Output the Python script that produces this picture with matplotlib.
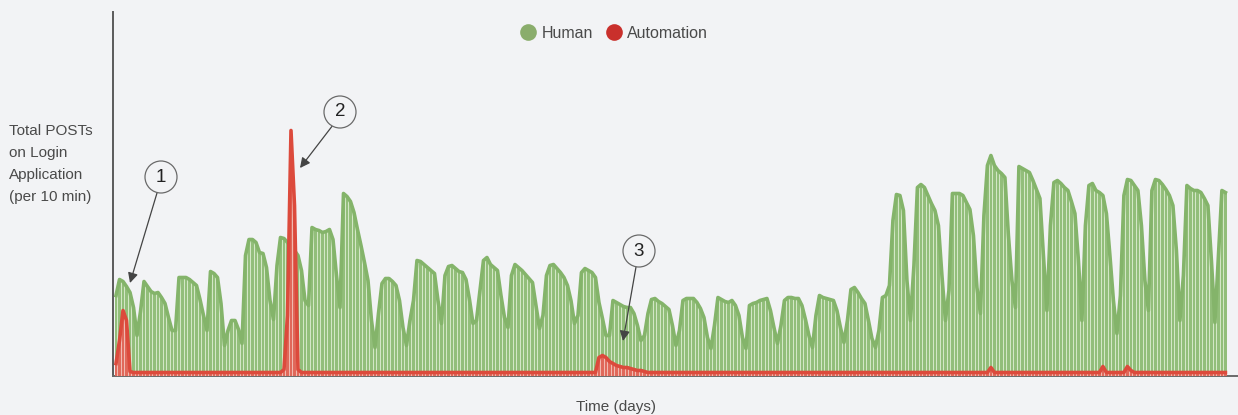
import matplotlib
matplotlib.use("Agg")
import matplotlib.pyplot as plt
from matplotlib.lines import Line2D
from matplotlib.patches import Circle
import numpy as np

plt.rcParams['font.family'] = ['Liberation Sans', 'DejaVu Sans']

# ---- data (one value per time step) ----
human = [
    80, 96, 94, 89, 83, 68, 40, 64, 94, 89, 84, 82, 83, 78, 72, 58, 45, 45,
    98, 98, 98, 96, 93, 90, 76, 60, 45, 104, 102, 98, 72, 30, 45, 55, 55, 46,
    32, 120, 136, 136, 133, 123, 122, 108, 75, 56, 110, 138, 137, 133, 129, 125,
    120, 105, 75, 70, 148, 146, 145, 143, 144, 146, 136, 100, 68, 182, 179, 174,
    163, 146, 130, 113, 95, 55, 28, 62, 92, 97, 97, 94, 90, 75, 48, 30,
    55, 75, 115, 114, 111, 108, 105, 102, 75, 52, 100, 109, 110, 107, 104, 103,
    96, 76, 52, 55, 85, 115, 118, 111, 108, 105, 80, 58, 48, 100, 111, 108,
    105, 101, 97, 93, 70, 47, 60, 100, 110, 111, 107, 103, 98, 90, 75, 52,
    60, 103, 107, 105, 103, 98, 73, 57, 40, 40, 75, 73, 71, 69, 68, 68,
    62, 50, 35, 40, 62, 76, 77, 74, 72, 69, 66, 50, 30, 45, 75, 77,
    77, 77, 73, 67, 58, 38, 27, 50, 78, 76, 74, 73, 75, 70, 60, 38,
    27, 70, 72, 73, 75, 76, 77, 65, 48, 32, 50, 75, 78, 78, 77, 77,
    70, 56, 40, 28, 60, 80, 78, 77, 76, 75, 65, 48, 33, 55, 86, 88,
    83, 77, 72, 55, 37, 28, 45, 78, 80, 90, 155, 181, 180, 165, 95, 55,
    110, 188, 191, 188, 180, 172, 165, 150, 100, 55, 85, 182, 182, 182, 180, 173,
    166, 140, 88, 62, 160, 210, 220, 210, 205, 202, 198, 140, 95, 68, 209, 207,
    205, 203, 195, 186, 177, 120, 65, 150, 193, 195, 192, 188, 185, 174, 162, 115,
    55, 150, 190, 192, 185, 183, 180, 162, 120, 75, 42, 80, 180, 196, 195, 190,
    185, 150, 95, 65, 185, 196, 195, 191, 186, 180, 170, 125, 55, 100, 190, 187,
    185, 185, 183, 177, 170, 115, 53, 120, 185, 183,
]

automation = [
    12, 35, 65, 55, 4, 3, 3, 3, 3, 3, 3, 3, 3, 3, 3, 3, 3, 3, 3, 3,
    3, 3, 3, 3, 3, 3, 3, 3, 3, 3, 3, 3, 3, 3, 3, 3, 3, 3, 3, 3,
    3, 3, 3, 3, 3, 3, 3, 3, 6, 60, 245, 170, 6, 3, 3, 3, 3, 3, 3, 3,
    3, 3, 3, 3, 3, 3, 3, 3, 3, 3, 3, 3, 3, 3, 3, 3, 3, 3, 3, 3,
    3, 3, 3, 3, 3, 3, 3, 3, 3, 3, 3, 3, 3, 3, 3, 3, 3, 3, 3, 3,
    3, 3, 3, 3, 3, 3, 3, 3, 3, 3, 3, 3, 3, 3, 3, 3, 3, 3, 3, 3,
    3, 3, 3, 3, 3, 3, 3, 3, 3, 3, 3, 3, 3, 3, 3, 3, 3, 3, 18, 20,
    18, 14, 12, 10, 9, 8, 8, 7, 6, 5, 5, 4, 3, 3, 3, 3, 3, 3, 3, 3,
    3, 3, 3, 3, 3, 3, 3, 3, 3, 3, 3, 3, 3, 3, 3, 3, 3, 3, 3, 3,
    3, 3, 3, 3, 3, 3, 3, 3, 3, 3, 3, 3, 3, 3, 3, 3, 3, 3, 3, 3,
    3, 3, 3, 3, 3, 3, 3, 3, 3, 3, 3, 3, 3, 3, 3, 3, 3, 3, 3, 3,
    3, 3, 3, 3, 3, 3, 3, 3, 3, 3, 3, 3, 3, 3, 3, 3, 3, 3, 3, 3,
    3, 3, 3, 3, 3, 3, 3, 3, 3, 3, 8, 3, 3, 3, 3, 3, 3, 3, 3, 3,
    3, 3, 3, 3, 3, 3, 3, 3, 3, 3, 3, 3, 3, 3, 3, 3, 3, 3, 3, 3,
    3, 3, 9, 3, 3, 3, 3, 3, 3, 9, 5, 3, 3, 3, 3, 3, 3, 3, 3, 3,
    3, 3, 3, 3, 3, 3, 3, 3, 3, 3, 3, 3, 3, 3, 3, 3, 3, 3,
]

series_names = ["Human", "Automation"]
y_label = "Total POSTs\non Login\nApplication\n(per 10 min)"
x_label = "Time (days)"
callouts = ["1", "2", "3"]

n = min(len(human), len(automation))
human = np.array(human[:n], dtype=float)
automation = np.array(automation[:n], dtype=float)
t = np.arange(n)

BG = "#f2f3f5"
TXT = "#4a4a4a"
W, H = 1238, 415

fig = plt.figure(figsize=(W / 100, H / 100), dpi=100, facecolor=BG)
ax = fig.add_axes([113 / W, (H - 376) / H, (W - 113) / W, 364 / H])
ax.set_facecolor(BG)

# human
ax.fill_between(t, 0, human, color="#d3e7c6", lw=0, zorder=1)
ax.bar(t, human, width=0.72, color="#92be7a", lw=0, zorder=2)
ax.plot(t, human, color="#84b46a", lw=2.6, zorder=3, solid_joinstyle="round")

# automation
ax.fill_between(t, 0, automation, color="#f1b9b0", lw=0, zorder=4)
ax.bar(t, automation, width=0.72, color="#e0685a", lw=0, zorder=5)
ax.plot(t, automation, color="#dc4a3c", lw=2.6, zorder=6, solid_joinstyle="round")

ax.set_xlim(-0.86, n - 1 + 3.6)
ax.set_ylim(-0.5, 363.5)
ax.set_xticks([])
ax.set_yticks([])
for s in ["top", "right"]:
    ax.spines[s].set_visible(False)
ax.spines["left"].set_color("#5a5a5a")
ax.spines["left"].set_linewidth(1.4)
ax.spines["bottom"].set_color("#6a6a6a")
ax.spines["bottom"].set_linewidth(1.4)

# legend
handles = [
    Line2D([], [], marker="o", ls="none", ms=12, mfc="#8aad6c", mec="none"),
    Line2D([], [], marker="o", ls="none", ms=12, mfc="#c9302c", mec="none"),
]
fig.legend(handles, series_names, loc="center", bbox_to_anchor=(614 / W, (H - 33) / H),
           ncol=2, frameon=False, fontsize=11.5, handletextpad=0.35,
           columnspacing=0.8, labelcolor=TXT, handlelength=1.0)

# axis labels
fig.text(9 / W, (H - 164) / H, y_label, ha="left", va="center", fontsize=11,
         color=TXT, linespacing=1.72)
fig.text(616 / W, (H - 407) / H, x_label, ha="center", va="center", fontsize=11,
         color=TXT)

# callouts
circles = [(161, 177), (340, 112), (639, 251)]
tails = [(157, 193), (333, 125), (636, 267)]
tips = [(130, 283), (300, 168), (623, 341)]
for lab, (cx, cy), (sx, sy), (tx, ty) in zip(callouts, circles, tails, tips):
    c = Circle((cx / 100, (H - cy) / 100), 0.16, transform=fig.dpi_scale_trans,
               fc=BG, ec="#6a6a6a", lw=0.9, zorder=10)
    fig.patches.append(c)
    fig.text(cx / W, (H - cy) / H, lab, ha="center", va="center", fontsize=13.5,
             color="#222222", zorder=11)
    ax.annotate("", xy=(tx, H - ty), xytext=(sx, H - sy),
                xycoords="figure pixels", textcoords="figure pixels",
                arrowprops=dict(arrowstyle="-|>", color="#444444", lw=0.9,
                                mutation_scale=15, shrinkA=0, shrinkB=0),
                zorder=12, annotation_clip=False)

fig.savefig("out.png", dpi=100, facecolor=BG)
